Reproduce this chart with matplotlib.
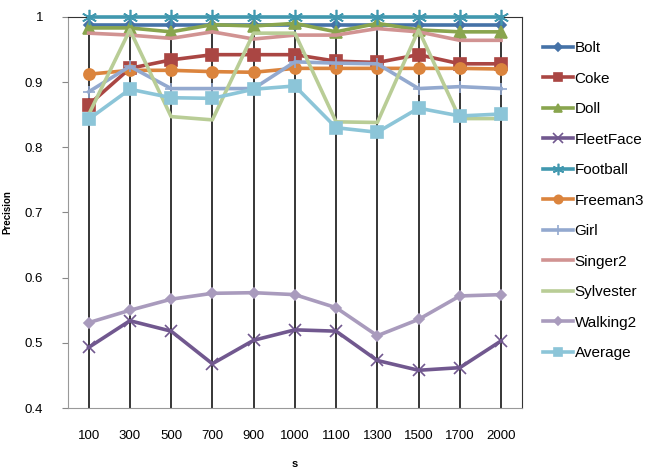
import matplotlib.pyplot as plt
import numpy as np

plt.rcParams['font.family'] = ['Liberation Sans', 'DejaVu Sans']

s_labels = ['100', '300', '500', '700', '900', '1000', '1100', '1300', '1500', '1700', '2000']

bolt      = [0.988, 0.988, 0.988, 0.988, 0.988, 0.988, 0.988, 0.988, 0.988, 0.988, 0.988]
coke      = [0.865, 0.921, 0.934, 0.942, 0.942, 0.942, 0.932, 0.930, 0.942, 0.928, 0.928]
doll      = [0.983, 0.983, 0.977, 0.988, 0.986, 0.990, 0.977, 0.990, 0.980, 0.977, 0.977]
fleetface = [0.493, 0.534, 0.518, 0.468, 0.504, 0.520, 0.518, 0.473, 0.458, 0.462, 0.503]
football  = [1.0, 1.0, 1.0, 1.0, 1.0, 1.0, 1.0, 1.0, 1.0, 1.0, 1.0]
freeman3  = [0.912, 0.918, 0.918, 0.916, 0.915, 0.921, 0.921, 0.921, 0.921, 0.921, 0.920]
girl      = [0.885, 0.924, 0.890, 0.890, 0.890, 0.931, 0.929, 0.928, 0.890, 0.893, 0.890]
singer2   = [0.975, 0.972, 0.967, 0.977, 0.966, 0.972, 0.972, 0.982, 0.977, 0.964, 0.964]
sylvester = [0.850, 0.980, 0.847, 0.842, 0.975, 0.975, 0.839, 0.838, 0.980, 0.844, 0.844]
walking2  = [0.531, 0.550, 0.567, 0.576, 0.577, 0.574, 0.554, 0.511, 0.536, 0.572, 0.574]
average   = [0.843, 0.889, 0.876, 0.875, 0.889, 0.894, 0.830, 0.823, 0.860, 0.848, 0.851]

x = np.arange(len(s_labels))

fig = plt.figure(figsize=(6.49, 4.68), dpi=100)
ax = fig.add_axes([0.1048, 0.128, 0.699, 0.836])

# series: (label, data, color, marker, markersize)
series = [
    ('Bolt', bolt, '#4572A7', 'D', 5),
    ('Coke', coke, '#AA4643', 's', 8),
    ('Doll', doll, '#89A54E', '^', 8),
    ('FleetFace', fleetface, '#71588F', 'x', 9),
    ('Football', football, '#4198AF', (6, 2, 0), 11),
    ('Freeman3', freeman3, '#DB843D', 'o', 8),
    ('Girl', girl, '#93A9CF', '+', 9),
    ('Singer2', singer2, '#D19392', None, 0),
    ('Sylvester', sylvester, '#B9CD96', None, 0),
    ('Walking2', walking2, '#A99BBD', 'D', 5),
    ('Average', average, '#8CC5D8', 's', 8),
]

for name, vals, col, mk, ms in series:
    ax.plot(x, vals, color=col, lw=2.6, marker=mk, markersize=ms,
            markeredgewidth=1.2, label=name, zorder=3, clip_on=False)

ax.set_xlim(-0.5, len(s_labels) - 0.5)
ax.set_ylim(0.4, 1.0)
ax.set_xticks(x)
ax.set_xticklabels(s_labels, fontsize=9.5)
ax.set_yticks(np.arange(0.4, 1.01, 0.1))
ax.set_yticklabels(['0.4', '0.5', '0.6', '0.7', '0.8', '0.9', '1'], fontsize=9.5)
ax.tick_params(axis='x', length=0, pad=16)
ax.tick_params(axis='y', length=4, pad=14, color='#888888')
ax.grid(axis='x', color='black', lw=1.1, zorder=1)
for sp in ['left', 'bottom']:
    ax.spines[sp].set_color('#999999')
for sp in ['top', 'right']:
    ax.spines[sp].set_color('#333333')

ax.set_ylabel('Precision', fontsize=7, fontweight='bold', labelpad=9)
ax.set_xlabel('s', fontsize=8, fontweight='bold', labelpad=12)

ax.legend(loc='upper left', bbox_to_anchor=(0.836, 0.912), bbox_transform=fig.transFigure,
          frameon=False, fontsize=11, labelspacing=1.08, handlelength=2.0,
          handletextpad=0.1, borderpad=0, borderaxespad=0, markerscale=0.75)

plt.savefig('out.png', dpi=100)
